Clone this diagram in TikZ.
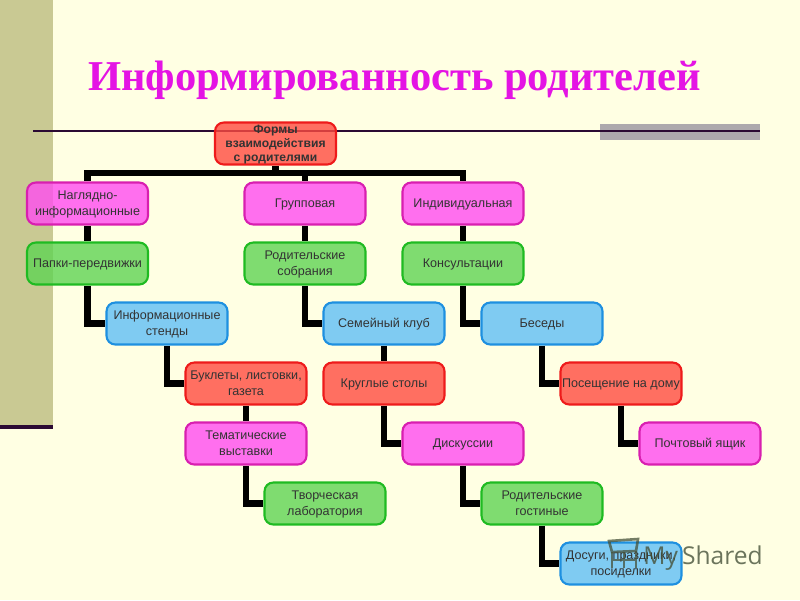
\documentclass[tikz,border=0pt]{standalone}
\usepackage{fontspec}
\setmainfont{Liberation Sans}
\newfontfamily\titlefont{Liberation Serif}
\newfontfamily\brandfont{Open Sans}
\definecolor{pagebg}{HTML}{FFFFE3}
\definecolor{bandcol}{HTML}{C9C993}
\definecolor{rulecol}{HTML}{2B0A33}
\definecolor{barcol}{HTML}{ADA9AD}
\definecolor{titlecol}{HTML}{E414E4}
\definecolor{redfill}{HTML}{FF4C41}
\definecolor{redline}{HTML}{EE1B1B}
\definecolor{pinkfill}{HTML}{FF4CF1}
\definecolor{pinkline}{HTML}{D81FB0}
\definecolor{greenfill}{HTML}{5FD454}
\definecolor{greenline}{HTML}{1FBB22}
\definecolor{bluefill}{HTML}{5FBEF6}
\definecolor{blueline}{HTML}{1E90E0}
\definecolor{brandcol}{HTML}{46523A}
\pgfdeclarelayer{back}
\pgfsetlayers{back,main}
\tikzset{
	formbox/.style={draw, line width=1.2pt, rounded corners=5pt, minimum width=2.42cm, minimum height=0.84cm,
		inner sep=0pt, align=center, font=\fontsize{7.15pt}{8.6pt}\selectfont, text=black!80,
		fill opacity=0.8, text opacity=1, execute at begin node={\rule[-1.5pt]{0pt}{7.5pt}}},
	tworow/.style={execute at begin node={\rule[-1.5pt]{0pt}{16.1pt}}},
	threerow/.style={execute at begin node={\rule[-1.5pt]{0pt}{23.9pt}}},
	redbox/.style={formbox, fill=redfill, draw=redline},
	pinkbox/.style={formbox, fill=pinkfill, draw=pinkline},
	greenbox/.style={formbox, fill=greenfill, draw=greenline},
	bluebox/.style={formbox, fill=bluefill, draw=blueline},
	link/.style={draw=black, line width=3.9pt}
}
\begin{document}
\begin{tikzpicture}[x=0.02cm, y=-0.02cm]
	% фон
	\begin{pgfonlayer}{back}
		\fill[pagebg] (0,0) rectangle (800,600);
		\fill[bandcol] (0,0) rectangle (53,425);
		\fill[rulecol] (0,425) rectangle (53,429);
		\fill[barcol] (600,124) rectangle (760,140);
		\draw[rulecol, line width=0.8pt] (33,131) -- (760,131);
	\end{pgfonlayer}
	\useasboundingbox (0,0) rectangle (800,600);
	
	% заголовок
	\node[text=titlecol, font=\titlefont\bfseries\fontsize{24.2pt}{26pt}\selectfont, anchor=base west, inner sep=0pt] (title) at (88,90) {Информированность родителей};
	
	% блоки
	\node[redbox, threerow, font=\bfseries\fontsize{6.9pt}{8.2pt}\selectfont] (forms) at (275.5,143.5) {Формы\\взаимодействия\\с родителями};
	\coordinate (bus) at (275.5,173);
	
	\node[pinkbox, tworow] (visual) at (87.5,203.5) {Наглядно-\\информационные};
	\node[greenbox] (folders) at (87.5,263.5) {Папки-передвижки};
	\node[bluebox, tworow] (stands) at (167,323.5) {Информационные\\стенды};
	\node[redbox, tworow] (booklets) at (246,383.5) {Буклеты, листовки,\\газета};
	\node[pinkbox, tworow] (shows) at (246,443.5) {Тематические\\выставки};
	\node[greenbox, tworow] (lab) at (325,503.5) {Творческая\\лаборатория};
	
	\node[pinkbox] (group) at (305,203.5) {Групповая};
	\node[greenbox, tworow] (meetings) at (305,263.5) {Родительские\\собрания};
	\node[bluebox] (club) at (384,323.5) {Семейный клуб};
	\node[redbox] (tables) at (384,383.5) {Круглые столы};
	\node[pinkbox] (talks) at (463,443.5) {Дискуссии};
	\node[greenbox, tworow] (lounges) at (542,503.5) {Родительские\\гостиные};
	\node[bluebox, tworow] (leisure) at (621,563.5) {Досуги, праздники,\\посиделки};
	
	\node[pinkbox] (single) at (463,203.5) {Индивидуальная};
	\node[greenbox] (consult) at (463,263.5) {Консультации};
	\node[bluebox] (chats) at (542,323.5) {Беседы};
	\node[redbox] (visits) at (621,383.5) {Посещение на дому};
	\node[pinkbox] (mailbox) at (700,443.5) {Почтовый ящик};
	
	% связи
	\begin{pgfonlayer}{back}
		\draw[link] (forms.south) -- (bus);
		\draw[link] (bus) -| (visual.north);
		\draw[link] (bus) -| (group.north);
		\draw[link] (bus) -| (single.north);
		\foreach \a/\b in {visual/folders, booklets/shows, group/meetings, club/tables, single/consult}
			\draw[link] (\a.south) -- (\b.north);
		\foreach \a/\b in {folders/stands, stands/booklets, shows/lab, meetings/club, tables/talks, talks/lounges, lounges/leisure, consult/chats, chats/visits, visits/mailbox}
			\draw[link] (\a.south) |- (\b.west);
	\end{pgfonlayer}
	
	% водяной знак
	\node[anchor=base west, inner sep=0pt, text=brandcol, text opacity=0.8, font=\brandfont\fontsize{14pt}{16pt}\selectfont] (brand) at (643,564) {My\,Shared};
	\draw[brandcol, opacity=0.75, line width=1.5pt] (609,541) -- (638,539) -- (636,551) -- (612,552) -- cycle;
	\draw[brandcol, opacity=0.75, line width=1.5pt] (612,552) -- (612,568) (624,552) -- (624,568) (636,551) -- (636,568) (612,560) -- (636,560);
\end{tikzpicture}
\end{document}
